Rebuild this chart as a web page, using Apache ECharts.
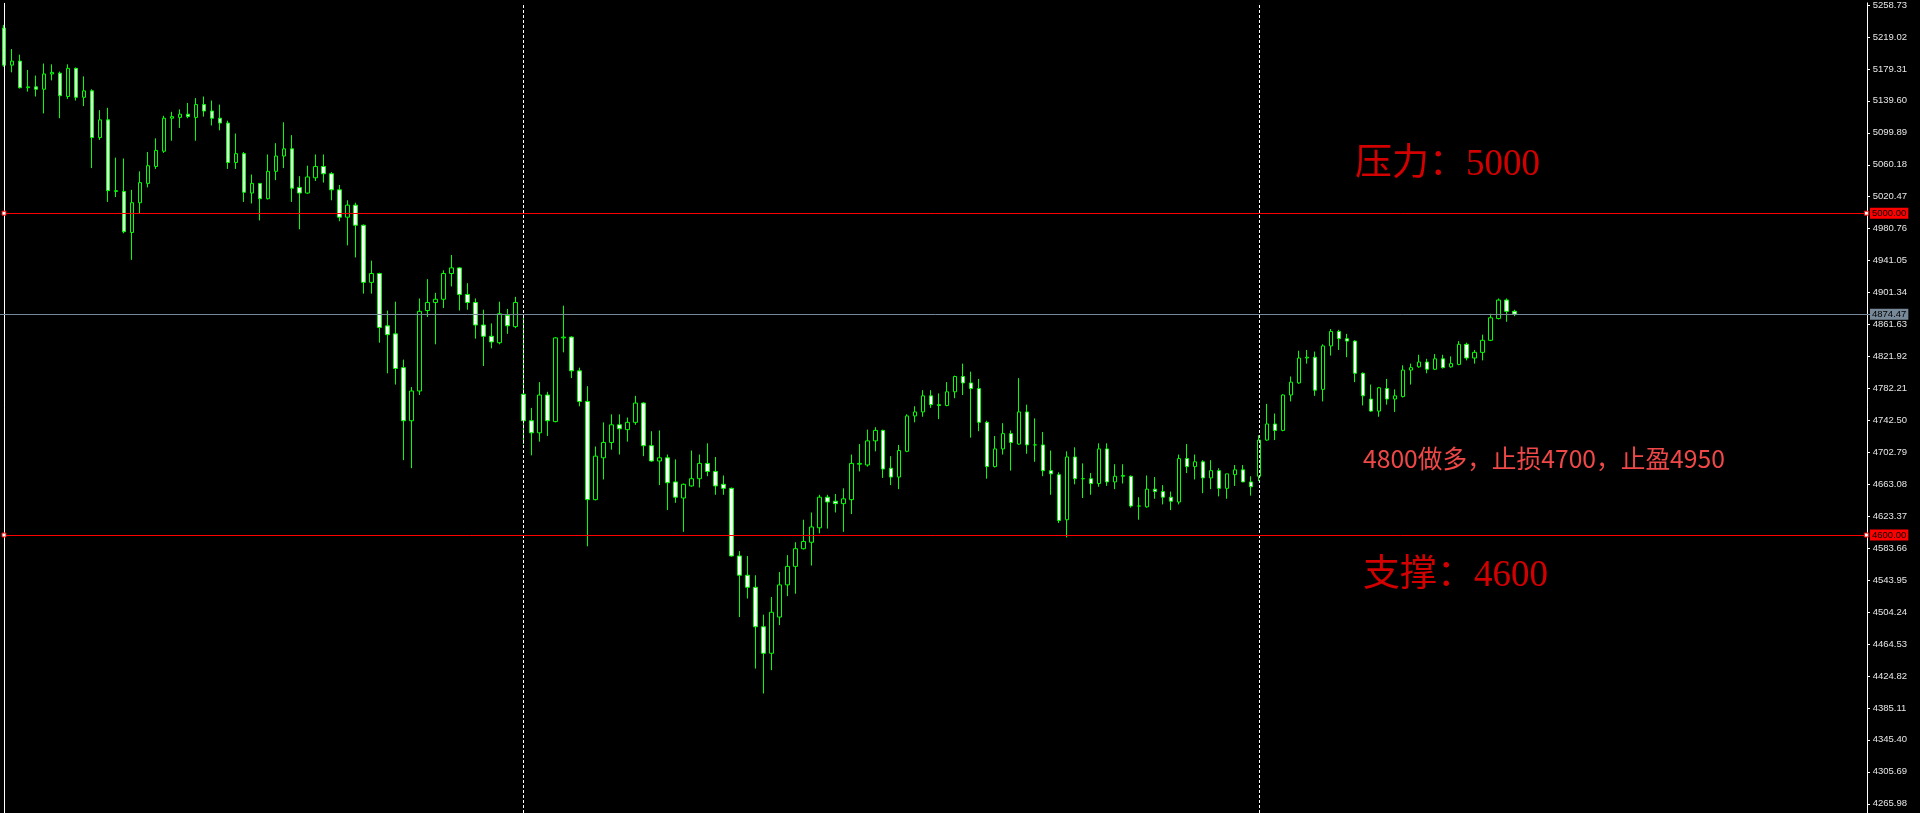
<!DOCTYPE html>
<html>
<head>
<meta charset="utf-8">
<style>
html,body{margin:0;padding:0;background:#000;}
#chart{width:1920px;height:813px;}
</style>
<script src="https://cdn.jsdelivr.net/npm/echarts/dist/echarts.min.js"></script>
</head>
<body>
<div id="chart"></div>
<script>
// ---- data ----
const OPEN = [5230,5184,5189,5156,5157,5154,5173,5174,5145,5180,5144,5152,5094,5116,5027,5027,4976,5013,5037,5058,
5077,5118,5119,5123,5119,5135,5127,5118,5112,5063,5074,5025,5037,5018,5052,5071,5080,5032,5025,5044,
5058,5049,5029,4995,5010,4985,4914,4925,4860,4850,4808,4742,4779,4879,4889,4893,4925,4932,4899,4889,
4861,4847,4839,4873,4859,4775,4742,4727,4774,4741,4845,4846,4804,4766,4644,4696,4715,4737,4731,4740,
4764,4711,4692,4696,4666,4646,4661,4670,4689,4679,4663,4658,4574,4550,4535,4486,4453,4498,4538,4561,
4583,4591,4609,4647,4642,4639,4644,4688,4687,4717,4730,4683,4672,4704,4748,4753,4773,4762,4761,4778,
4797,4789,4782,4740,4685,4707,4726,4713,4753,4712,4712,4680,4675,4619,4697,4670,4670,4664,4707,4666,
4673,4673,4636,4635,4657,4654,4647,4641,4695,4685,4691,4671,4680,4658,4675,4681,4666,4673,4718,4738,
4730,4774,4789,4820,4821,4781,4835,4853,4844,4841,4801,4769,4754,4782,4769,4772,4805,4809,4815,4806,
4819,4809,4812,4837,4820,4827,4842,4869,4892,4878];
const CLOSE = [5184,5189,5156,5157,5154,5173,5175,5146,5180,5144,5152,5094,5116,5028,5028,4977,5013,5038,5059,5078,
5118,5120,5123,5120,5135,5127,5118,5112,5063,5074,5026,5037,5018,5052,5071,5080,5031,5025,5045,5058,
5049,5029,4995,5010,4985,4914,4925,4858,4849,4807,4742,4779,4878,4889,4893,4925,4932,4899,4889,4861,
4847,4840,4875,4860,4889,4742,4727,4774,4742,4845,4846,4804,4766,4644,4698,4715,4737,4732,4740,4764,
4711,4692,4696,4665,4647,4663,4670,4689,4679,4661,4658,4574,4550,4535,4486,4453,4504,4538,4561,4583,
4592,4610,4647,4641,4639,4645,4689,4689,4717,4730,4682,4672,4705,4748,4753,4773,4762,4761,4778,4797,
4789,4782,4740,4685,4707,4726,4715,4753,4712,4712,4680,4676,4618,4697,4670,4670,4664,4707,4666,4673,
4674,4636,4636,4657,4654,4647,4642,4695,4685,4691,4671,4680,4658,4676,4681,4666,4660,4718,4738,4730,
4774,4790,4820,4821,4780,4835,4853,4844,4841,4801,4773,4754,4783,4769,4773,4805,4808,4815,4806,4819,
4808,4813,4837,4820,4827,4842,4870,4892,4878,4874.47];
const HIGH = [5234,5204,5197,5178,5171,5186,5185,5176,5185,5181,5170,5154,5128,5131,5069,5068,5029,5052,5076,5093,
5121,5126,5129,5137,5143,5145,5140,5135,5115,5099,5076,5048,5037,5073,5087,5113,5097,5046,5059,5073,
5073,5051,5035,5016,5013,4986,4941,4926,4879,4890,4818,4784,4894,4918,4901,4929,4948,4933,4913,4894,
4880,4863,4890,4881,4896,4870,4758,4790,4778,4846,4885,4847,4808,4785,4710,4740,4750,4750,4746,4773,
4765,4729,4730,4700,4694,4664,4705,4700,4714,4697,4674,4659,4580,4574,4550,4501,4523,4554,4575,4591,
4619,4628,4650,4650,4651,4658,4700,4713,4731,4734,4731,4698,4712,4750,4760,4780,4780,4776,4790,4798,
4813,4803,4794,4742,4723,4739,4730,4795,4762,4745,4728,4705,4678,4704,4709,4689,4677,4714,4714,4688,
4688,4674,4647,4674,4672,4662,4654,4700,4713,4700,4693,4693,4683,4676,4687,4687,4673,4724,4763,4751,
4775,4797,4829,4830,4828,4837,4856,4855,4850,4842,4802,4787,4784,4794,4781,4811,4813,4824,4819,4825,
4824,4822,4841,4839,4830,4849,4875,4894,4894,4880];
const LOW = [5182,5175,5155,5151,5145,5124,5165,5118,5142,5140,5133,5056,5091,5014,5020,4975,4942,4999,5032,5055,
5075,5090,5106,5118,5090,5120,5109,5103,5055,5055,5014,5012,4991,5017,5041,5056,5014,4980,5024,5040,
5038,5016,4990,4960,4945,4900,4900,4839,4801,4787,4693,4683,4774,4871,4837,4882,4909,4879,4880,4844,
4810,4832,4837,4850,4857,4713,4699,4716,4723,4740,4827,4795,4760,4586,4643,4669,4706,4700,4716,4737,
4698,4691,4662,4631,4640,4604,4660,4659,4673,4650,4650,4573,4498,4521,4434,4403,4432,4488,4524,4527,
4582,4562,4602,4608,4628,4604,4626,4679,4685,4704,4671,4662,4657,4703,4740,4747,4758,4744,4760,4770,
4774,4721,4729,4670,4684,4700,4680,4712,4701,4691,4673,4650,4615,4597,4663,4646,4650,4660,4661,4657,
4664,4634,4619,4634,4645,4638,4631,4638,4677,4669,4652,4657,4648,4645,4661,4666,4649,4667,4717,4718,
4729,4766,4788,4813,4773,4766,4823,4830,4821,4790,4761,4753,4747,4762,4753,4771,4787,4808,4801,4805,
4807,4808,4811,4817,4813,4817,4841,4868,4865,4872];
const TICKS = [5258.73,5219.02,5179.31,5139.60,5099.89,5060.18,5020.47,4980.76,4941.05,4901.34,4861.63,4821.92,
4782.21,4742.50,4702.79,4663.08,4623.37,4583.66,4543.95,4504.24,4464.53,4424.82,4385.11,4345.40,4305.69,4265.98];
const RESISTANCE = 5000.00;
const SUPPORT = 4600.00;
const BID = 4874.47;
const SEPARATORS = [65, 157];      // bar indexes of the dashed period separators
const SLOTS = 234;                 // bar slots across the plot (incl. empty right margin)
const TEXT_RES = '压力：5000';
const TEXT_SUP = '支撑：4600';
const TEXT_PLAN = '4800做多，止损4700，止盈4950';

// ---- build ----
const categories = [];
for (let i = 0; i < SLOTS; i++) categories.push(String(i));
const candles = OPEN.map((o, i) => [o, CLOSE[i], LOW[i], HIGH[i]]);

const chart = echarts.init(document.getElementById('chart'), null, {renderer: 'canvas'});
const lastSlot = SLOTS - 1;
const squareStyle = {color: '#ffffff', borderColor: '#ff0000', borderWidth: 1};

const option = {
  backgroundColor: '#000000',
  animation: false,
  grid: {left: -1.6, right: 49.6, top: 0, bottom: 0, containLabel: false},
  xAxis: {
    type: 'category', data: categories, boundaryGap: true,
    axisLine: {show: false}, axisTick: {show: false}, axisLabel: {show: false}, splitLine: {show: false}
  },
  yAxis: {
    type: 'value', position: 'right', min: 4254.5, max: 5261.3, offset: -3.4,
    splitLine: {show: false},
    axisLine: {show: true, lineStyle: {color: '#ffffff', width: 1}},
    axisTick: {show: true, length: 3, lineStyle: {color: '#ffffff'}, customValues: TICKS},
    axisLabel: {
      show: true, margin: 3, customValues: TICKS.concat([RESISTANCE, SUPPORT, BID]),
      fontFamily: 'Liberation Sans', fontSize: 9.5, color: '#e6e6e6',
      formatter: function (v) {
        const t = Number(v).toFixed(2);
        if (Math.abs(v - RESISTANCE) < 1e-6 || Math.abs(v - SUPPORT) < 1e-6) return '{red|' + t + '}';
        if (Math.abs(v - BID) < 1e-6) return '{grey|' + t + '}';
        return '{n|' + t + '}';
      },
      rich: {
        n: {padding: [0, 0, 0, 2.7], color: '#e6e6e6', fontSize: 9.5, fontFamily: 'Liberation Sans'},
        red: {backgroundColor: '#ff0000', color: '#000000', padding: [1, 2, 0, 2], lineHeight: 10, fontSize: 9.5, fontFamily: 'Liberation Sans'},
        grey: {backgroundColor: '#778899', color: '#000000', padding: [1, 2, 0, 2], lineHeight: 10, fontSize: 9.5, fontFamily: 'Liberation Sans'}
      }
    }
  },
  series: [{
    type: 'candlestick',
    data: candles,
    barWidth: 4,
    itemStyle: {
      color: '#000000', color0: '#ffffff',
      borderColor: '#00ff00', borderColor0: '#00ff00', borderColorDoji: '#00ff00', borderWidth: 1
    },
    emphasis: {disabled: true},
    markLine: {
      silent: true, symbol: ['none', 'none'], label: {show: false}, animation: false,
      data: [
        {xAxis: 0, lineStyle: {color: '#ffffff', width: 1, type: 'solid'}},
        ...SEPARATORS.map(s => ({xAxis: s, lineStyle: {color: '#ffffff', width: 1, type: [3, 2]}})),
        [{coord: [0, RESISTANCE]}, {coord: [lastSlot, RESISTANCE]}],
        [{coord: [0, SUPPORT]}, {coord: [lastSlot, SUPPORT]}],
        {yAxis: BID, lineStyle: {color: '#778899', width: 1, type: 'solid'}}
      ],
      lineStyle: {color: '#ff0000', width: 1, type: 'solid'}
    },
    markPoint: {
      silent: true, symbol: 'rect', symbolSize: 4, label: {show: false}, animation: false,
      itemStyle: squareStyle,
      data: [
        {coord: [0.4, RESISTANCE]}, {coord: [lastSlot - 0.3, RESISTANCE]},
        {coord: [0.4, SUPPORT]}, {coord: [lastSlot - 0.3, SUPPORT]}
      ]
    }
  }],
  graphic: [
    {type: 'text', left: 1355, top: 147, style: {text: TEXT_RES, fill: '#d40000', font: '37px "Liberation Serif", "Noto Sans CJK SC", serif'}},
    {type: 'text', left: 1363, top: 558, style: {text: TEXT_SUP, fill: '#d40000', font: '37px "Liberation Serif", "Noto Sans CJK SC", serif'}},
    {type: 'text', left: 1363, top: 446, style: {text: TEXT_PLAN, fill: '#f04848', font: '24.7px "Noto Sans CJK SC", sans-serif'}}
  ]
};
chart.setOption(option);
</script>
</body>
</html>
